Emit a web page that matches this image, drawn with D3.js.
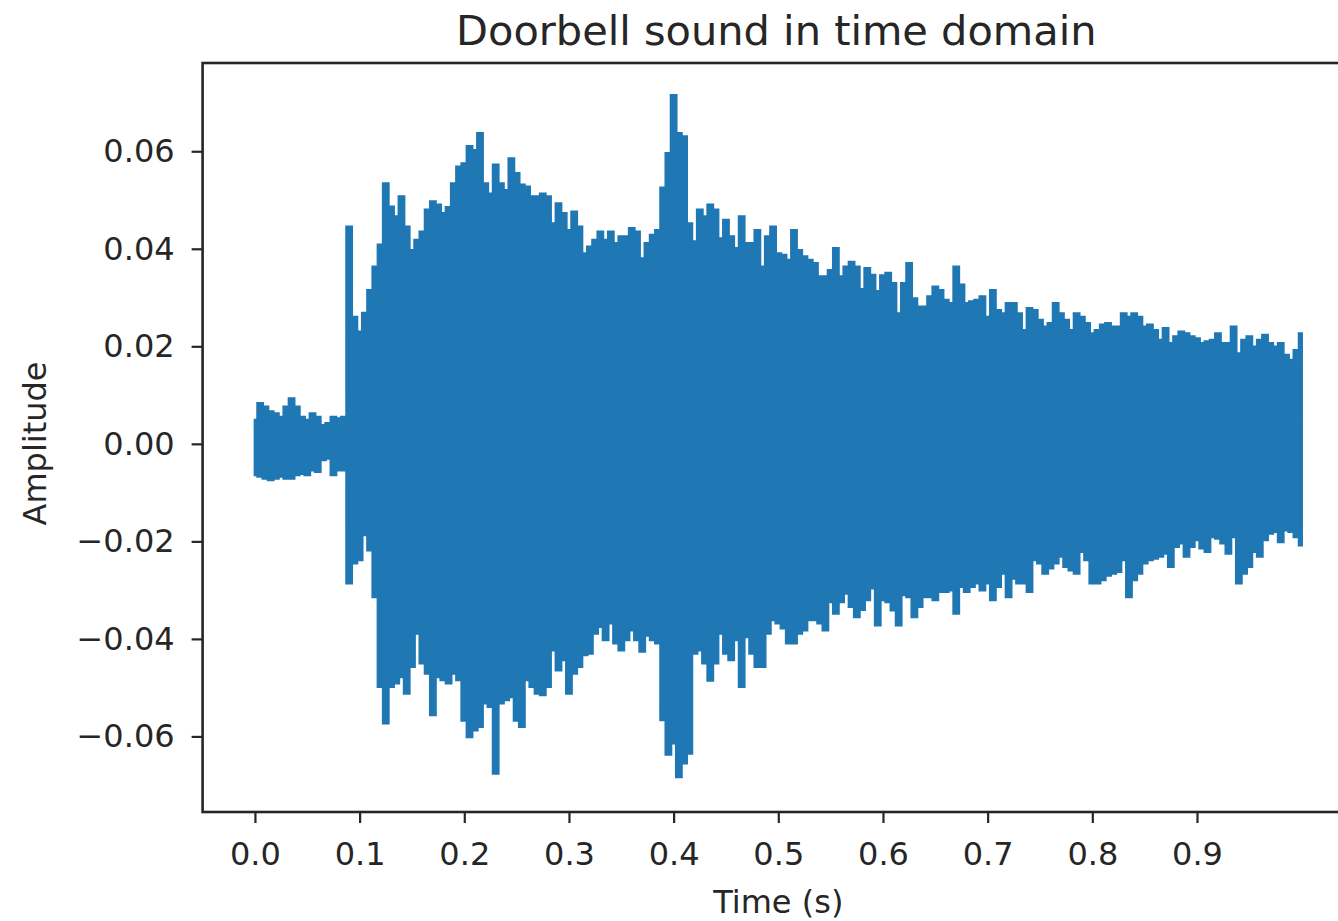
<!DOCTYPE html>
<html>
<head>
<meta charset="utf-8">
<script src="https://cdn.jsdelivr.net/npm/d3@7"></script>
<style>
  html, body { margin: 0; padding: 0; background: #fff; }
  svg { display: block; }
  text { font-family: "DejaVu Sans", sans-serif; fill: #262626; }
</style>
</head>
<body>
<svg id="chart" width="1338" height="921"></svg>
<script>
// Waveform envelope, sampled every 5 ms from 0.000 s to 1.000 s
const sampleStep = 0.005;

// Per-bin maximum of the signal
const upperEnvelope = [
  0.0049, 0.0083, 0.0076, 0.0066, 0.0062, 0.0055, 0.0076, 0.0093, 0.0076, 0.0055,
  0.0049, 0.0062, 0.0055, 0.0038, 0.0042, 0.0055, 0.0052, 0.0055, 0.0445, 0.0260,
  0.0230, 0.0268, 0.0315, 0.0363, 0.0408, 0.0534, 0.0486, 0.0466, 0.0507, 0.0445,
  0.0397, 0.0418, 0.0435, 0.0480, 0.0497, 0.0490, 0.0473, 0.0485, 0.0534, 0.0568,
  0.0575, 0.0610, 0.0602, 0.0637, 0.0534, 0.0513, 0.0572, 0.0534, 0.0520, 0.0585,
  0.0555, 0.0531, 0.0527, 0.0507, 0.0507, 0.0513, 0.0507, 0.0452, 0.0493, 0.0473,
  0.0438, 0.0476, 0.0445, 0.0390, 0.0404, 0.0418, 0.0435, 0.0418, 0.0435, 0.0411,
  0.0425, 0.0425, 0.0442, 0.0435, 0.0380, 0.0411, 0.0428, 0.0438, 0.0525, 0.0596,
  0.0715, 0.0637, 0.0630, 0.0452, 0.0415, 0.0480, 0.0466, 0.0490, 0.0480, 0.0421,
  0.0459, 0.0425, 0.0401, 0.0466, 0.0411, 0.0411, 0.0438, 0.0363, 0.0425, 0.0445,
  0.0390, 0.0387, 0.0377, 0.0438, 0.0397, 0.0384, 0.0377, 0.0370, 0.0343, 0.0343,
  0.0356, 0.0401, 0.0343, 0.0363, 0.0373, 0.0363, 0.0317, 0.0360, 0.0346, 0.0313,
  0.0345, 0.0350, 0.0329, 0.0267, 0.0329, 0.0370, 0.0298, 0.0281, 0.0281, 0.0302,
  0.0322, 0.0315, 0.0295, 0.0288, 0.0363, 0.0326, 0.0288, 0.0292, 0.0295, 0.0302,
  0.0260, 0.0315, 0.0274, 0.0267, 0.0288, 0.0288, 0.0267, 0.0233, 0.0278, 0.0274,
  0.0254, 0.0240, 0.0247, 0.0288, 0.0267, 0.0254, 0.0233, 0.0267, 0.0260, 0.0247,
  0.0226, 0.0233, 0.0244, 0.0247, 0.0240, 0.0240, 0.0267, 0.0260, 0.0267, 0.0260,
  0.0240, 0.0244, 0.0233, 0.0213, 0.0237, 0.0206, 0.0220, 0.0230, 0.0226, 0.0220,
  0.0216, 0.0206, 0.0210, 0.0213, 0.0226, 0.0206, 0.0206, 0.0240, 0.0185, 0.0213,
  0.0220, 0.0199, 0.0213, 0.0223, 0.0206, 0.0199, 0.0206, 0.0182, 0.0172, 0.0192,
  0.0226
];

// Per-bin minimum of the signal
const lowerEnvelope = [
  -0.0064, -0.0067, -0.0071, -0.0074, -0.0071, -0.0067, -0.0071, -0.0071, -0.0064, -0.0061,
  -0.0064, -0.0054, -0.0057, -0.0033, -0.0030, -0.0064, -0.0054, -0.0054, -0.0286, -0.0245,
  -0.0238, -0.0187, -0.0218, -0.0314, -0.0498, -0.0573, -0.0498, -0.0491, -0.0478, -0.0512,
  -0.0457, -0.0389, -0.0450, -0.0471, -0.0556, -0.0478, -0.0484, -0.0491, -0.0471, -0.0484,
  -0.0567, -0.0601, -0.0587, -0.0580, -0.0532, -0.0539, -0.0676, -0.0532, -0.0525, -0.0519,
  -0.0567, -0.0580, -0.0484, -0.0498, -0.0512, -0.0515, -0.0498, -0.0423, -0.0464, -0.0443,
  -0.0512, -0.0471, -0.0457, -0.0433, -0.0430, -0.0389, -0.0375, -0.0402, -0.0368, -0.0409,
  -0.0423, -0.0402, -0.0382, -0.0402, -0.0426, -0.0393, -0.0402, -0.0409, -0.0566, -0.0637,
  -0.0614, -0.0683, -0.0655, -0.0635, -0.0430, -0.0423, -0.0450, -0.0485, -0.0450, -0.0389,
  -0.0430, -0.0443, -0.0402, -0.0498, -0.0396, -0.0430, -0.0457, -0.0457, -0.0389, -0.0361,
  -0.0368, -0.0378, -0.0409, -0.0409, -0.0389, -0.0382, -0.0361, -0.0361, -0.0368, -0.0382,
  -0.0324, -0.0348, -0.0324, -0.0307, -0.0334, -0.0355, -0.0340, -0.0320, -0.0296, -0.0372,
  -0.0320, -0.0324, -0.0341, -0.0372, -0.0310, -0.0314, -0.0355, -0.0334, -0.0314, -0.0314,
  -0.0320, -0.0303, -0.0303, -0.0300, -0.0348, -0.0293, -0.0303, -0.0293, -0.0286, -0.0300,
  -0.0286, -0.0320, -0.0293, -0.0266, -0.0314, -0.0276, -0.0286, -0.0286, -0.0303, -0.0238,
  -0.0245, -0.0266, -0.0255, -0.0245, -0.0231, -0.0252, -0.0259, -0.0266, -0.0221, -0.0238,
  -0.0286, -0.0286, -0.0279, -0.0270, -0.0266, -0.0262, -0.0238, -0.0314, -0.0279, -0.0266,
  -0.0245, -0.0238, -0.0235, -0.0231, -0.0225, -0.0252, -0.0211, -0.0204, -0.0231, -0.0211,
  -0.0197, -0.0214, -0.0221, -0.0191, -0.0194, -0.0204, -0.0225, -0.0191, -0.0286, -0.0266,
  -0.0252, -0.0221, -0.0231, -0.0197, -0.0184, -0.0180, -0.0201, -0.0177, -0.0180, -0.0191,
  -0.0208
];

const xTickValues = [0.0, 0.1, 0.2, 0.3, 0.4, 0.5, 0.6, 0.7, 0.8, 0.9];
const yTickValues = [-0.06, -0.04, -0.02, 0.00, 0.02, 0.04, 0.06];

const titleText = "Doorbell sound in time domain";
const xLabelText = "Time (s)";
const yLabelText = "Amplitude";

// ---------------------------------------------------------------
const svg = d3.select("#chart");
const plot = { left: 202.6, top: 63, right: 1354, bottom: 812 };

const x = d3.scaleLinear().domain([-0.05, 1.05]).range([plot.left, plot.right]);
const y = d3.scaleLinear().domain([-0.0755, 0.0781]).range([plot.bottom, plot.top]);

const samples = upperEnvelope.map((hi, i) => ({
  t: i * sampleStep,
  hi: hi,
  lo: lowerEnvelope[i]
}));

const lineColor = "#1f77b4";

// Signal drawn as the band between its per-bin minimum and maximum
const band = d3.area()
  .x(d => x(d.t))
  .y0(d => y(d.lo))
  .y1(d => y(d.hi))
  .curve(d3.curveStep);

svg.append("path")
  .datum(samples)
  .attr("d", band)
  .attr("fill", lineColor)
  .attr("stroke", lineColor)
  .attr("stroke-width", 2.6)
  .attr("stroke-linejoin", "miter");

// Axes
const fontSize = 32;
const tickLen = 11;

const xAxis = d3.axisBottom(x)
  .tickValues(xTickValues)
  .tickFormat(d3.format(".1f"))
  .tickSize(tickLen)
  .tickPadding(19);

const minusFormat = v => d3.format(".2f")(v).replace("-", "\u2212");
const yAxis = d3.axisLeft(y)
  .tickValues(yTickValues)
  .tickFormat(minusFormat)
  .tickSize(tickLen)
  .tickPadding(17);

const gx = svg.append("g")
  .attr("transform", `translate(0,${plot.bottom})`)
  .call(xAxis);
const gy = svg.append("g")
  .attr("transform", `translate(${plot.left},0)`)
  .call(yAxis);

[gx, gy].forEach(g => {
  g.select(".domain").remove();
  g.selectAll(".tick line").attr("stroke", "#262626").attr("stroke-width", 2.2);
  g.selectAll(".tick text")
    .attr("font-family", "DejaVu Sans, sans-serif")
    .attr("font-size", fontSize)
    .attr("fill", "#262626");
});

// Frame around the plotting area
svg.append("rect")
  .attr("x", plot.left)
  .attr("y", plot.top)
  .attr("width", plot.right - plot.left)
  .attr("height", plot.bottom - plot.top)
  .attr("fill", "none")
  .attr("stroke", "#262626")
  .attr("stroke-width", 2.6);

// Title and axis labels
const cx = (plot.left + plot.right) / 2;

svg.append("text")
  .attr("x", cx - 2)
  .attr("y", 45)
  .attr("text-anchor", "middle")
  .attr("font-size", 41.5)
  .text(titleText);

svg.append("text")
  .attr("x", cx)
  .attr("y", 913)
  .attr("text-anchor", "middle")
  .attr("font-size", fontSize)
  .text(xLabelText);

svg.append("text")
  .attr("transform", `translate(46,${(plot.top + plot.bottom) / 2 + 6}) rotate(-90)`)
  .attr("text-anchor", "middle")
  .attr("font-size", fontSize)
  .text(yLabelText);
</script>
</body>
</html>
